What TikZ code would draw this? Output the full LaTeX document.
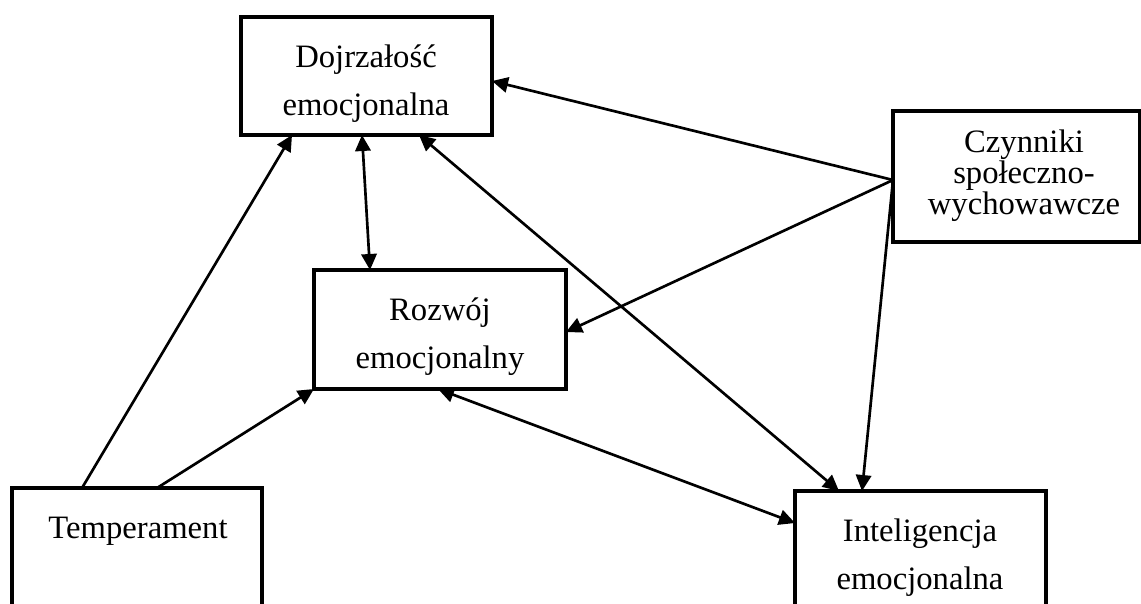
\documentclass[tikz,border=0pt]{standalone}
\usepackage{fontspec}
\setmainfont{Liberation Serif}
\usetikzlibrary{arrows.meta,calc}
\begin{document}
\begin{tikzpicture}[x=0.75pt,y=-0.75pt,
  box/.style={draw, line width=2.3pt, rectangle, inner sep=0pt, outer sep=0pt, anchor=north west},
  label/.style={anchor=base, inner sep=0pt, font=\fontsize{24.5}{36}\selectfont},
  conn/.style={line width=2pt, -{Triangle[length=12pt,width=11.5pt]}},
  both/.style={line width=2pt, {Triangle[length=12pt,width=11.5pt]}-{Triangle[length=12pt,width=11.5pt]}}]
\clip (0,0) rectangle (1141,603);

% boxes
\node[box, minimum width=188.25pt, minimum height=88.5pt] (doj) at (241,17) {};
\node[box, minimum width=185.25pt, minimum height=98.25pt] (czy) at (893,111) {};
\node[box, minimum width=189pt, minimum height=89.25pt] (roz) at (314,270) {};
\node[box, minimum width=187.5pt, minimum height=121.5pt] (tem) at (12,488) {};
\node[box, minimum width=188.25pt, minimum height=119.25pt] (int) at (795,491) {};

% texts
\node[label] (dojT) at (366,67) {\begin{tabular}[t]{@{}c@{}}Dojrzałość\\emocjonalna\end{tabular}};
\node[label, font=\fontsize{24.5}{22}\selectfont] (czyT) at (1024,152) {\begin{tabular}[t]{@{}c@{}}Czynniki\\społeczno-\\wychowawcze\end{tabular}};
\node[label] (rozT) at (440,320) {\begin{tabular}[t]{@{}c@{}}Rozwój\\emocjonalny\end{tabular}};
\node[label] (temT) at (138,538) {Temperament};
\node[label] (intT) at (920,541) {\begin{tabular}[t]{@{}c@{}}Inteligencja\\emocjonalna\end{tabular}};

% connectors
\draw[conn] ($(czy.north west)+(0,69)$) -- ($(doj.north east)+(0,64)$);
\draw[conn] ($(czy.north west)+(0,69)$) -- ($(roz.north east)+(0,62)$);
\draw[conn] ($(czy.north west)+(0,69)$) -- ($(int.north west)+(67,0)$);
\draw[both] ($(doj.south west)+(121,0)$) -- ($(roz.north west)+(56,0)$);
\draw[both] ($(doj.south west)+(178,0)$) -- ($(int.north west)+(44,0)$);
\draw[both] ($(roz.south west)+(124,0)$) -- ($(int.north west)+(0,32)$);
\draw[conn] ($(tem.north west)+(70,0)$) -- ($(doj.south west)+(51,0)$);
\draw[conn] ($(tem.north west)+(145,0)$) -- (roz.south west);
\end{tikzpicture}
\end{document}
